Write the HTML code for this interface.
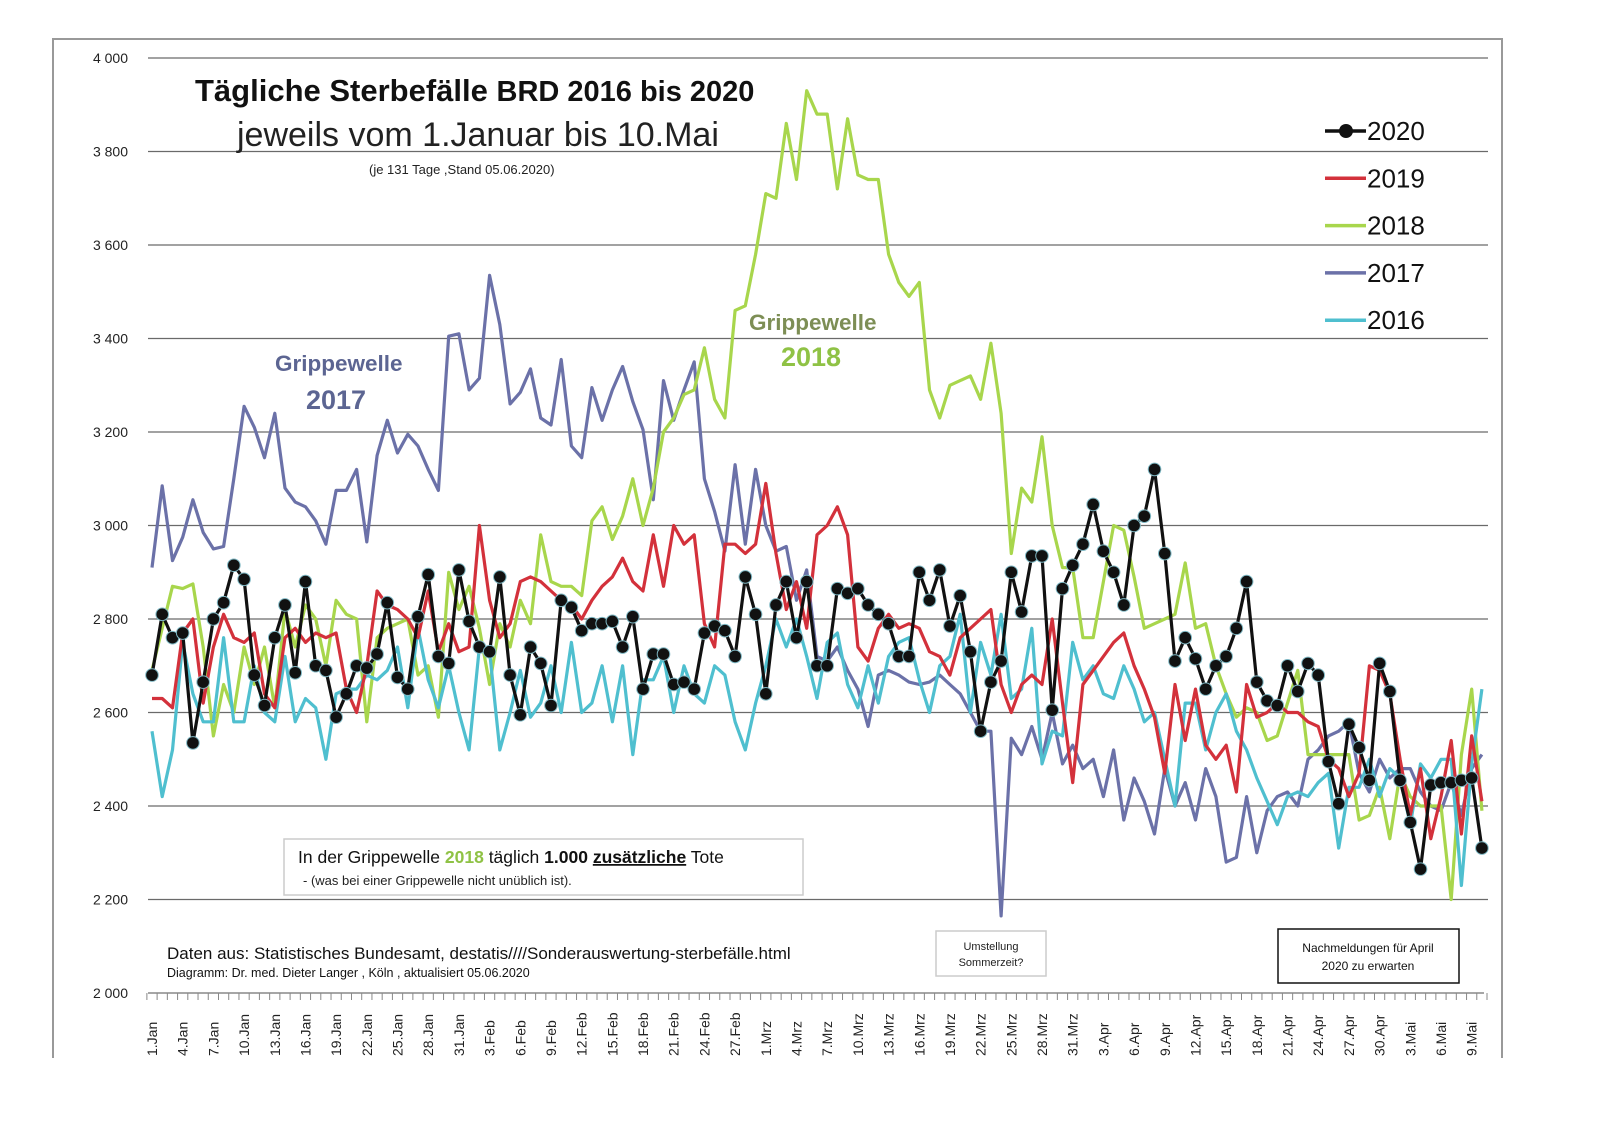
<!DOCTYPE html>
<html><head><meta charset="utf-8">
<style>
body{margin:0;background:#fff;}
svg{display:block;font-family:"Liberation Sans",sans-serif;}
</style></head>
<body>
<svg id="chart" width="1600" height="1132" viewBox="0 0 1600 1132" xmlns="http://www.w3.org/2000/svg">
<rect x="0" y="0" width="1600" height="1132" fill="#fff"/>
<path d="M53 1058 V39 H1502 V1058" fill="none" stroke="#999" stroke-width="2"/>
<g id="grid"></g>
<g id="series"></g>
<g id="axis"></g>
<g>
<text x="195" y="101" font-size="31" font-weight="bold" fill="#111">Tägliche Sterbefälle <tspan font-size="29">BRD 2016 bis 2020</tspan></text>
<text x="237" y="146" font-size="34" fill="#222">jeweils vom 1.Januar bis 10.Mai</text>
<text x="369" y="174" font-size="13" fill="#222">(je 131 Tage ,Stand  05.06.2020)</text>
</g>
<g font-weight="bold" fill="#5c6592">
<text x="275" y="371" font-size="22.5">Grippewelle</text>
<text x="306" y="409" font-size="27">2017</text>
</g>
<g font-weight="bold">
<text x="749" y="330" font-size="22.5" fill="#7d8e55">Grippewelle</text>
<text x="781" y="366" font-size="27">
<tspan fill="#8fc245">2018</tspan></text>
</g>
<g id="legend"></g>
<g>
<rect x="284" y="839" width="519" height="56" fill="#fff" stroke="#ccc" stroke-width="1.5"/>
<text x="298" y="863" font-size="17.5" fill="#111">In der  Grippewelle <tspan fill="#8fc245" font-weight="bold">2018</tspan> täglich <tspan font-weight="bold">1.000</tspan> <tspan font-weight="bold" text-decoration="underline">zusätzliche</tspan> Tote</text>
<text x="303" y="885" font-size="13" fill="#222">- (was bei einer Grippewelle nicht unüblich ist).</text>
</g>
<g fill="#111">
<text x="167" y="959" font-size="17">Daten aus:  Statistisches Bundesamt, destatis////Sonderauswertung-sterbefälle.html</text>
<text x="167" y="977" font-size="12.5">Diagramm: Dr. med. Dieter Langer , Köln  , aktualisiert  05.06.2020</text>
</g>
<g>
<rect x="936" y="931" width="110" height="45" fill="#fff" stroke="#ccc" stroke-width="1.5"/>
<text x="991" y="950" font-size="11" text-anchor="middle" fill="#222">Umstellung</text>
<text x="991" y="966" font-size="11" text-anchor="middle" fill="#222">Sommerzeit?</text>
</g>
<g>
<rect x="1278" y="929" width="181" height="54" fill="#fff" stroke="#111" stroke-width="1.5"/>
<text x="1368" y="952" font-size="12" text-anchor="middle" fill="#111">Nachmeldungen für  April</text>
<text x="1368" y="970" font-size="12" text-anchor="middle" fill="#111">2020  zu erwarten</text>
</g>
</svg>
<script>
const yTicks = [2000,2200,2400,2600,2800,3000,3200,3400,3600,3800,4000];
const yTickLabels = ["2 000","2 200","2 400","2 600","2 800","3 000","3 200","3 400","3 600","3 800","4 000"];
const xLabelDays = ["1.Jan","4.Jan","7.Jan","10.Jan","13.Jan","16.Jan","19.Jan","22.Jan","25.Jan","28.Jan","31.Jan","3.Feb","6.Feb","9.Feb","12.Feb","15.Feb","18.Feb","21.Feb","24.Feb","27.Feb","1.Mrz","4.Mrz","7.Mrz","10.Mrz","13.Mrz","16.Mrz","19.Mrz","22.Mrz","25.Mrz","28.Mrz","31.Mrz","3.Apr","6.Apr","9.Apr","12.Apr","15.Apr","18.Apr","21.Apr","24.Apr","27.Apr","30.Apr","3.Mai","6.Mai","9.Mai"];
const seriesNames = ["2020","2019","2018","2017","2016"];
const v2017 = [2910,3085,2925,2975,3055,2985,2950,2955,3100,3255,
3210,3145,3240,3080,3050,3040,3010,2960,3075,3075,
3120,2965,3150,3225,3155,3195,3170,3120,3075,3405,
3410,3290,3315,3535,3430,3260,3285,3335,3230,3215,
3355,3170,3145,3295,3225,3290,3340,3265,3205,3055,
3310,3225,3290,3350,3100,3030,2945,3130,2960,3120,
3000,2945,2955,2840,2905,2720,2710,2740,2690,2650,
2570,2680,2690,2680,2665,2660,2665,2680,2660,2640,
2600,2560,2560,2165,2545,2510,2570,2500,2600,2490,
2530,2480,2500,2420,2520,2370,2460,2410,2340,2480,
2400,2450,2370,2480,2420,2280,2290,2420,2300,2390,
2420,2430,2400,2500,2520,2550,2560,2580,2470,2430,
2500,2460,2480,2480,2430,2400,2390,2450,2380,2480,2510];
const v2018 = [2690,2780,2870,2865,2875,2740,2550,2660,2600,2740,
2660,2740,2610,2820,2740,2830,2800,2700,2840,2810,
2800,2580,2760,2780,2790,2800,2680,2700,2590,2900,
2820,2870,2780,2660,2790,2740,2840,2790,2980,2880,
2870,2870,2850,3010,3040,2970,3020,3100,3000,3080,
3200,3230,3280,3290,3380,3270,3230,3460,3470,3580,
3710,3700,3860,3740,3930,3880,3880,3720,3870,3750,
3740,3740,3580,3520,3490,3520,3290,3230,3300,3310,
3320,3270,3390,3240,2940,3080,3050,3190,3000,2910,
2910,2760,2760,2880,3000,2990,2890,2780,2790,2800,
2810,2920,2780,2790,2700,2640,2590,2610,2600,2540,
2550,2620,2690,2510,2510,2510,2510,2510,2370,2380,
2440,2330,2470,2420,2400,2400,2400,2200,2510,2650,2390];
const v2019 = [2630,2630,2610,2770,2800,2620,2740,2810,2760,2750,
2770,2640,2610,2760,2780,2750,2770,2760,2770,2650,
2600,2700,2860,2830,2820,2800,2760,2860,2730,2790,
2730,2740,3000,2840,2760,2790,2880,2890,2880,2860,
2840,2830,2800,2840,2870,2890,2930,2880,2860,2980,
2870,3000,2960,2980,2790,2740,2960,2960,2940,2960,
3090,2940,2820,2880,2780,2980,3000,3040,2980,2740,
2710,2780,2810,2780,2790,2780,2730,2720,2680,2760,
2780,2800,2820,2660,2600,2660,2680,2660,2800,2620,
2450,2660,2690,2720,2750,2770,2700,2650,2590,2470,
2660,2540,2650,2530,2500,2530,2430,2660,2590,2600,
2620,2600,2600,2580,2570,2500,2480,2420,2470,2700,
2690,2640,2500,2380,2480,2330,2420,2540,2340,2550,2410];
const v2016 = [2560,2420,2520,2750,2640,2580,2580,2760,2580,2580,
2700,2600,2580,2720,2580,2630,2610,2500,2640,2650,
2650,2680,2670,2690,2740,2610,2780,2670,2610,2700,
2600,2520,2740,2730,2520,2600,2690,2590,2620,2700,
2600,2750,2600,2620,2700,2580,2700,2510,2670,2670,
2720,2600,2700,2640,2620,2700,2680,2580,2520,2620,
2700,2800,2740,2800,2720,2630,2750,2770,2660,2610,
2700,2620,2720,2750,2760,2670,2600,2700,2720,2810,
2600,2750,2680,2810,2630,2650,2780,2490,2560,2550,
2750,2670,2700,2640,2630,2700,2650,2580,2600,2500,
2400,2620,2620,2520,2600,2640,2560,2520,2460,2410,
2360,2420,2430,2420,2450,2470,2310,2440,2440,2500,
2420,2480,2460,2360,2490,2460,2500,2500,2230,2490,2650];
const v2020 = [2680,2810,2760,2770,2535,2665,2800,2835,2915,2885,
2680,2615,2760,2830,2685,2880,2700,2690,2590,2640,
2700,2695,2725,2835,2675,2650,2805,2895,2720,2705,
2905,2795,2740,2730,2890,2680,2595,2740,2705,2615,
2840,2825,2775,2790,2790,2795,2740,2805,2650,2725,
2725,2660,2665,2650,2770,2785,2775,2720,2890,2810,
2640,2830,2880,2760,2880,2700,2700,2865,2855,2865,
2830,2810,2790,2720,2720,2900,2840,2905,2785,2850,
2730,2560,2665,2710,2900,2815,2935,2935,2605,2865,
2915,2960,3045,2945,2900,2830,3000,3020,3120,2940,
2710,2760,2715,2650,2700,2720,2780,2880,2665,2625,
2615,2700,2645,2705,2680,2495,2405,2575,2525,2455,
2705,2645,2455,2365,2265,2445,2450,2450,2455,2460,2310];

const NS = "http://www.w3.org/2000/svg";
const X0 = 152, DX = 10.23;
function xs(i){ return X0 + i*DX; }
function ys(v){ return 993 - (v-2000)*0.4675; }
function mk(tag, attrs, parent){ const e=document.createElementNS(NS,tag); for(const k in attrs) e.setAttribute(k,attrs[k]); parent.appendChild(e); return e; }

const grid=document.getElementById('grid');
const axis=document.getElementById('axis');
yTicks.forEach((t,k)=>{
  if(t>2000){
    const l=mk('line',{x1:148,x2:1488,y1:ys(t),y2:ys(t),stroke:'#6a6a6a','stroke-width':1.3},grid);
    
    
  }
  const tx=mk('text',{x:128,y:ys(t)+5,'font-size':14,'text-anchor':'end',fill:'#222'},axis);
  tx.textContent=yTickLabels[k];
  
  
});
const xa=mk('line',{x1:148,x2:1484,y1:993,y2:993,stroke:'#888','stroke-width':1.5},axis);


for(let i=0;i<=131;i++){
  const xx=xs(i)-DX/2;
  const tk=mk('line',{x1:xx,x2:xx,y1:993,y2:1000,stroke:'#888','stroke-width':1},axis);
  
  
}
xLabelDays.forEach((lab,k)=>{
  const x=xs(k*3)+5;
  const t=mk('text',{x:x,y:1056,'font-size':14,fill:'#222',transform:`rotate(-90 ${x} 1056)`},axis);
  t.textContent=lab;
  
  
});

const sg=document.getElementById('series');
function drawLine(vals,color,name){
  const d=vals.map((v,i)=>(i?'L':'M')+xs(i).toFixed(1)+' '+ys(v).toFixed(1)).join(' ');
  const p=mk('path',{d:d,fill:'none',stroke:color,'stroke-width':3.2,'stroke-linejoin':'round'},sg);
  
  
}
drawLine(v2017,'#6b71a8','line-2017');
drawLine(v2018,'#a8d64c','line-2018');
drawLine(v2016,'#4fbfcf','line-2016');
drawLine(v2019,'#d3313b','line-2019');
drawLine(v2020,'#111','line-2020');
v2020.forEach((v,i)=>{
  const c=mk('circle',{cx:xs(i),cy:ys(v),r:6.3,fill:'#111',stroke:'#7fb8c4','stroke-width':1},sg);
  
  
});

const lg=document.getElementById('legend');
const lcolors=['#111','#d3313b','#a8d64c','#6b71a8','#4fbfcf'];
seriesNames.forEach((n,k)=>{
  const y=131+k*47.3;
  const g=mk('g',{},lg);
  
  
  mk('line',{x1:1325,x2:1366,y1:y,y2:y,stroke:lcolors[k],'stroke-width':3.5},g);
  if(k===0) mk('circle',{cx:1346,cy:y,r:7,fill:'#111'},g);
  const t=mk('text',{x:1367,y:y+9,'font-size':26,fill:'#111'},g);
  t.textContent=n;
});
</script>
</body></html>
